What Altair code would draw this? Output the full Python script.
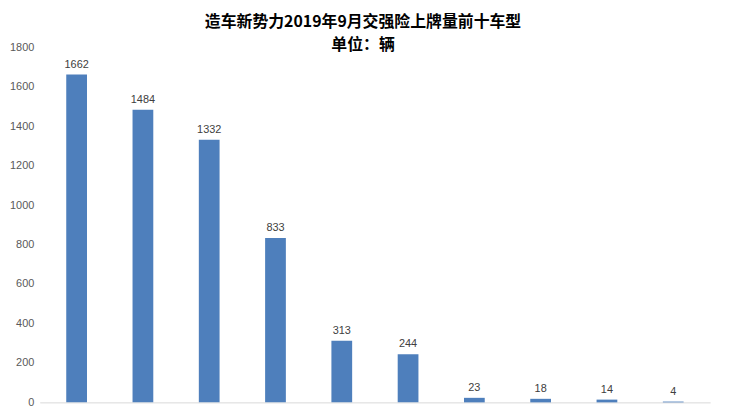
import altair as alt
import pandas as pd

models = ["车型1", "车型2", "车型3", "车型4", "车型5", "车型6", "车型7", "车型8", "车型9", "车型10"]
counts = [1662, 1484, 1332, 833, 313, 244, 23, 18, 14, 4]
y_ticks = [0, 200, 400, 600, 800, 1000, 1200, 1400, 1600, 1800]

df = pd.DataFrame({"model": models, "count": counts})

x = alt.X("model:N", sort=models,
          scale=alt.Scale(paddingInner=0.687, paddingOuter=0.4),
          axis=alt.Axis(title=None, labels=False, ticks=False,
                        domainColor="#d9d9d9", domainWidth=1))
y = alt.Y("count:Q",
          scale=alt.Scale(domain=[0, 1800], nice=False),
          axis=alt.Axis(title=None, values=y_ticks, format="d", grid=False, domain=False,
                        ticks=False, labelPadding=6, labelColor="#595959",
                        labelFont="Liberation Sans", labelFontSize=11))

bars = alt.Chart(df).mark_bar(color="#4e7fbc").encode(x=x, y=y)
labels = alt.Chart(df).mark_text(baseline="bottom", dy=-5, color="#404040",
                                 font="Liberation Sans", fontSize=11).encode(
    x=x, y=y, text="count:Q")

chart = alt.layer(bars, labels).properties(
    width=676, height=358,
    autosize=alt.AutoSizeParams(type="none"),
    padding={"left": 32, "top": 38, "right": 14, "bottom": 3},
    title=alt.TitleParams(
        text="造车新势力2019年9月交强险上牌量前十车型",
        subtitle="单位：辆",
        font="Noto Sans CJK SC", fontSize=16, fontWeight="bold", color="#000000",
        subtitleFont="Noto Sans CJK SC", subtitleFontSize=16,
        subtitleFontWeight="bold", subtitleColor="#000000",
        subtitlePadding=8, anchor="middle", frame="group", offset=-12, dx=-12),
).configure(background="#ffffff").configure_view(stroke=None)

chart.save("out.html", embed_options={"renderer": "svg", "actions": False})
